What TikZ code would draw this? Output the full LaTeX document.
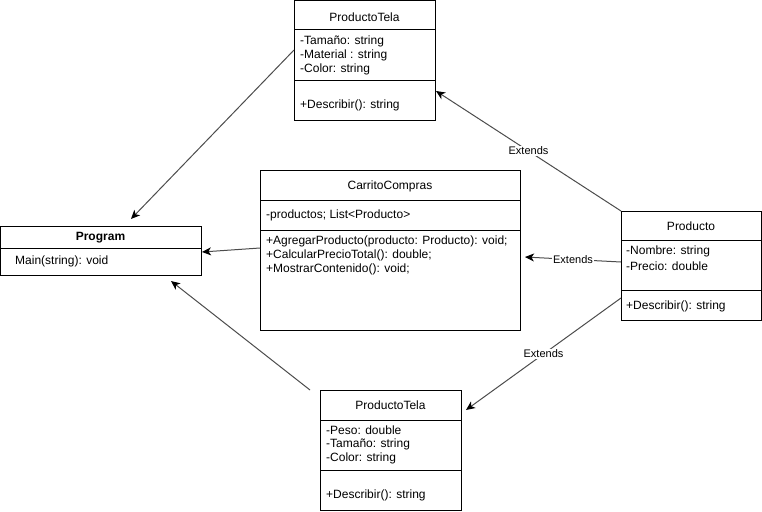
\documentclass[tikz,border=0pt]{standalone}
\usepackage{fontspec}
\setmainfont{Liberation Sans}
\usetikzlibrary{arrows.meta}
\begin{document}
\begin{tikzpicture}[x=1pt,y=-1pt,
  box/.style={draw=black, line width=1pt, anchor=north west, inner sep=0pt, outer sep=0pt},
  sep/.style={draw=black, line width=1pt},
  txt/.style={anchor=west, inner sep=0pt, yshift=-1pt, font=\fontsize{12}{14}\selectfont},
  ttl/.style={inner sep=0pt, yshift=-1pt, font=\fontsize{12}{14}\selectfont},
  conn/.style={draw=black!70, line width=1pt, -{Stealth[length=9pt,width=8pt,inset=2.5pt,color=black]}},
  lbl/.style={fill=white, inner sep=1pt, font=\fontsize{11}{13}\selectfont}]
\useasboundingbox (0,0) rectangle (762,511);

% ProductoTela (top)
\node[box, minimum width=141pt, minimum height=119pt] (tela1) at (294,1) {};
\draw[sep] (294,30) -- (435,30);
\draw[sep] (294,80) -- (435,80);
\node[ttl] (tela1t) at (364.5,16) {ProductoTela};
\node[txt] (tela1a) at (300,40) {-Tamaño: string};
\node[txt] (tela1b) at (300,54) {-Material : string};
\node[txt] (tela1c) at (300,68) {-Color: string};
\node[txt] (tela1m) at (300,104) {+Describir(): string};

% CarritoCompras
\node[box, minimum width=260pt, minimum height=160pt] (carr) at (260,170) {};
\draw[sep] (260,200) -- (520,200);
\draw[sep] (260,230) -- (520,230);
\node[ttl] (carrt) at (390,185) {CarritoCompras};
\node[txt] (carra) at (266,214) {-productos; List<Producto>};
\node[txt] (carrm1) at (266,240) {+AgregarProducto(producto: Producto): void;};
\node[txt] (carrm2) at (266,254) {+CalcularPrecioTotal(): double;};
\node[txt] (carrm3) at (266,268) {+MostrarContenido(): void;};

% Program
\node[box, minimum width=201pt, minimum height=49pt] (prog) at (0,226) {};
\draw[sep] (0,248) -- (201,248);
\node[ttl, font=\fontsize{12}{14}\selectfont\bfseries] (progt) at (100.5,237) {Program};
\node[txt] (progm) at (15,260) {Main(string): void};

% Producto
\node[box, minimum width=140pt, minimum height=109pt] (prod) at (621,211) {};
\draw[sep] (621,240) -- (761,240);
\draw[sep] (621,290) -- (761,290);
\node[ttl] (prodt) at (691,225) {Producto};
\node[txt] (proda) at (626,250) {-Nombre: string};
\node[txt] (prodb) at (626,265) {-Precio: double};
\node[txt] (prodm) at (626,305) {+Describir(): string};

% ProductoTela (bottom)
\node[box, minimum width=141pt, minimum height=120pt] (tela2) at (320,390) {};
\draw[sep] (320,420) -- (461,420);
\draw[sep] (320,470) -- (461,470);
\node[ttl] (tela2t) at (390.5,404) {ProductoTela};
\node[txt] (tela2a) at (326,429) {-Peso: double};
\node[txt] (tela2b) at (326,443) {-Tamaño: string};
\node[txt] (tela2c) at (326,457) {-Color: string};
\node[txt] (tela2m) at (326,494) {+Describir(): string};

% connector end points
\coordinate (c1s) at (294,50);  \coordinate (c1e) at (131,219);
\coordinate (c2s) at (260,248); \coordinate (c2e) at (202,252);
\coordinate (c3s) at (310,390); \coordinate (c3e) at (171,281);
\coordinate (c4s) at (621,211); \coordinate (c4e) at (436,91);
\coordinate (c5s) at (621,262); \coordinate (c5e) at (525,257);
\coordinate (c6s) at (621,298); \coordinate (c6e) at (466,410);

\draw[conn] (c1s) -- (c1e);
\draw[conn] (c2s) -- (c2e);
\draw[conn] (c3s) -- (c3e);
\draw[conn] (c4s) -- node[lbl] (l4) {Extends} (c4e);
\draw[conn] (c5s) -- node[lbl] (l5) {Extends} (c5e);
\draw[conn] (c6s) -- node[lbl] (l6) {Extends} (c6e);
\end{tikzpicture}
\end{document}
